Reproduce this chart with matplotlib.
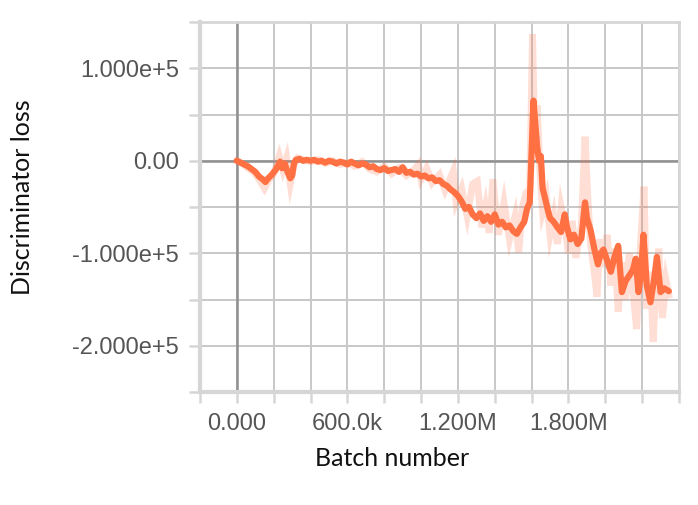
import matplotlib
matplotlib.use("Agg")
import matplotlib.pyplot as plt
import numpy as np

# Smoothed discriminator loss (x in thousands of batches, y in thousands)
smooth_x = [0, 20, 40, 60, 80, 100, 120, 140, 155, 170, 190, 210, 225, 235, 245, 260, 275, 290, 300, 310,
            320, 340, 360, 380, 400, 420, 440, 460, 480, 500, 520, 540, 560, 580, 600, 620, 640, 660, 680, 700,
            720, 740, 760, 780, 800, 820, 840, 860, 880, 900, 920, 940, 960, 980, 1000, 1020, 1040, 1060, 1080, 1100,
            1120, 1140, 1160, 1180, 1200, 1220, 1240, 1260, 1280, 1300, 1320, 1340, 1360, 1380, 1400, 1420, 1440, 1460,
            1480, 1500, 1520, 1540, 1560, 1575, 1590, 1600, 1610, 1620, 1630, 1640, 1650, 1660, 1670, 1690, 1700, 1720,
            1740, 1760, 1780, 1790, 1810, 1830, 1850, 1870, 1890, 1900, 1920, 1940, 1960, 1975, 1990, 2010, 2030, 2050,
            2070, 2090, 2110, 2127, 2150, 2165, 2180, 2195, 2207, 2225, 2245, 2265, 2280, 2300, 2320, 2345]
smooth_y = [0, -2, -4, -6, -9, -12, -17, -20, -23, -19, -15, -10, -5, -1, -8, -3, -12, -19, -16, -3,
            1, 2, 0, 1, 0, 1, -1, 0, -2, 0, -1, -3, -1, -2, -4, -1, -3, -5, -3, -4,
            -7, -6, -9, -10, -8, -11, -10, -9, -12, -7, -13, -12, -15, -14, -17, -16, -19, -18, -22, -21,
            -25, -27, -31, -34, -38, -44, -52, -50, -58, -62, -57, -65, -60, -66, -58, -69, -66, -72,
            -70, -76, -79, -72, -66, -52, -45, 10, 65, 40, 15, 0, 5, -30, -38, -55, -62, -66,
            -72, -77, -58, -70, -85, -80, -90, -84, -45, -62, -75, -95, -112, -100, -96, -108, -120, -104,
            -92, -142, -130, -125, -118, -106, -142, -120, -80, -135, -153, -128, -104, -142, -138, -141]

# Raw (unsmoothed) discriminator loss
raw_x = [0, 30, 60, 90, 120, 150, 170, 200, 230, 250, 270, 290, 310, 330, 360, 400, 440, 480, 520, 560,
         600, 640, 680, 720, 760, 800, 840, 880, 920, 960, 985, 1000, 1030, 1060, 1100, 1130, 1175, 1190, 1220, 1250,
         1280, 1305, 1330, 1350, 1370, 1390, 1420, 1450, 1480, 1510, 1530, 1550, 1570, 1590, 1605, 1615, 1630, 1645,
         1660, 1680, 1700, 1720, 1740, 1760, 1780, 1800, 1820, 1840, 1870, 1890, 1905, 1920, 1940, 1955, 1970, 1990,
         2010, 2030, 2050, 2070, 2090, 2110, 2130, 2150, 2170, 2190, 2210, 2225, 2245, 2260, 2275, 2290, 2310, 2330, 2345]
raw_y = [0, -3, -8, -12, -20, -30, -22, -14, 5, -10, 3, -25, -5, 3, 1, -1, 1, -3, 0, -4,
         -2, -6, -1, -9, -12, -6, -14, -8, -16, -10, -4, -20, -8, -24, -15, -32, -11, -45, -30, -60,
         -25, -22, -72, -50, -78, -20, -80, -45, -85, -60, -99, -50, -35, -30, 137, 40, 60, -10,
         -55, -40, -80, -60, -90, -50, -70, -100, -65, -105, -70, 26, -40, -90, -120, -147, -85, -115,
         -80, -135, -95, -163, -110, -150, -100, -140, -182, -95, -28, -160, -120, -196, -130, -95, -170, -130, -145]

x_ticks = [-200, 0, 200, 400, 600, 800, 1000, 1200, 1400, 1600, 1800, 2000, 2200, 2400]
x_tick_labels = ["", "0.000", "", "", "600.0k", "", "", "1.200M", "", "", "1.800M", "", "", ""]
y_ticks = [-250, -200, -150, -100, -50, 0, 50, 100, 150]
y_tick_labels = ["", "-2.000e+5", "", "-1.000e+5", "", "0.00", "", "1.000e+5", ""]

ORANGE = "#ff7043"
GRID = "#c8c8c8"

fig = plt.figure(figsize=(6.98, 5.05), dpi=100)
ax = fig.add_axes([200 / 698, 1 - 392 / 505, 479 / 698, 370 / 505])

ax.set_xlim(-200, 2400)
ax.set_ylim(-250, 150)

ax.set_xticks(x_ticks)
ax.set_xticklabels(x_tick_labels)
ax.set_yticks(y_ticks)
ax.set_yticklabels(y_tick_labels)

ax.grid(True, color=GRID, linewidth=1.4, zorder=0)
ax.axhline(0, color="#909090", linewidth=1.8, zorder=1.8)
ax.axvline(0, color="#909090", linewidth=1.8, zorder=1.8)

for s in ax.spines.values():
    s.set_color("#d6d6d6")
    s.set_linewidth(2.0)
ax.spines["bottom"].set_linewidth(3.0)
ax.spines["left"].set_linewidth(3.0)

ax.tick_params(axis="both", which="both", color="#d6d6d6", width=1.8, length=8,
               labelcolor="#555555", labelsize=17)
ax.tick_params(axis="x", pad=7)
ax.tick_params(axis="y", pad=7)
for lab in ax.get_xticklabels() + ax.get_yticklabels():
    lab.set_family("Liberation Sans")

ax.plot(raw_x, raw_y, color=ORANGE, alpha=0.22, linewidth=5, solid_joinstyle="miter", zorder=2)
ax.plot(smooth_x, smooth_y, color=ORANGE, linewidth=4.5, solid_capstyle="round", zorder=3)

fig.text(392 / 698, 1 - 458 / 505, "Batch number", ha="center", va="center",
         fontsize=18, family="Lato", color="#111111")
fig.text(23 / 698, 1 - 197 / 505, "Discriminator loss", ha="center", va="center",
         rotation=90, fontsize=18, family="Lato", color="#111111")

fig.savefig("out.png", dpi=100)
